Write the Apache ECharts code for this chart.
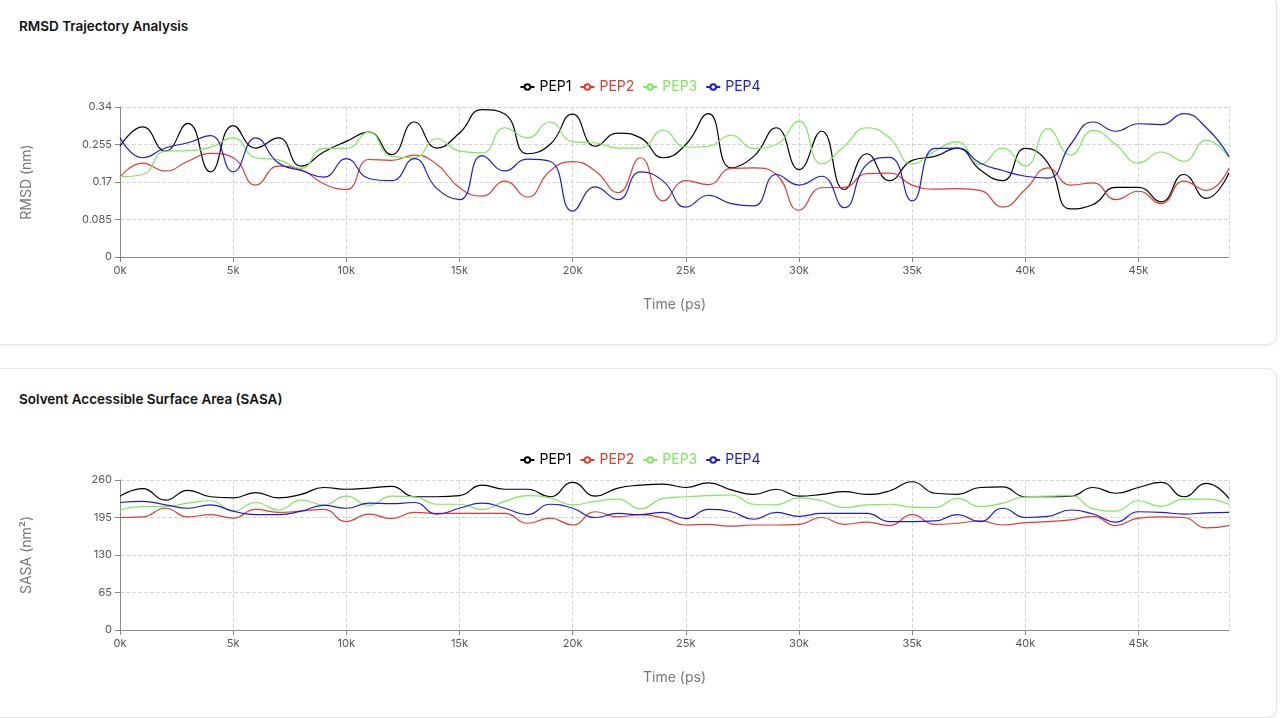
<!DOCTYPE html>
<html>
<head>
<meta charset="utf-8">
<script src="https://cdn.jsdelivr.net/npm/echarts@6/dist/echarts.min.js"></script>
<style>
  html, body { margin: 0; padding: 0; background: #ffffff; width: 1280px; height: 718px; overflow: hidden; font-family: Inter, "Noto Sans", sans-serif; }
  .card { position: absolute; left: -12px; width: 1289px; height: 350px; background: #fff; border: 1px solid #e4e4e4; border-radius: 10px; box-shadow: 0 1px 3px rgba(0,0,0,0.07); box-sizing: border-box; }
  .title { position: absolute; left: 19px; font-size: 13.5px; font-weight: 600; color: #111; line-height: 18px; }
  .chart { position: absolute; left: 0; width: 1280px; height: 270px; }
</style>
</head>
<body>
<div class="card" style="top:-5px"></div>
<div class="card" style="top:368px"></div>
<div class="title" style="top:17px">RMSD Trajectory Analysis</div>
<div class="title" style="top:390px">Solvent Accessible Surface Area (SASA)</div>
<div id="c1" class="chart" style="top:60px"></div>
<div id="c2" class="chart" style="top:433px"></div>
<script>
// time in ps, one frame every 1000 ps
const timePs = [0,1000,2000,3000,4000,5000,6000,7000,8000,9000,10000,11000,12000,13000,14000,15000,16000,17000,18000,19000,20000,21000,22000,23000,24000,25000,26000,27000,28000,29000,30000,31000,32000,33000,34000,35000,36000,37000,38000,39000,40000,41000,42000,43000,44000,45000,46000,47000,48000,49000];
const seriesNames = ['PEP1','PEP2','PEP3','PEP4'];
const seriesColors = ['#000000','#e03c31','#7de85c','#1c1cd6'];

// RMSD (nm)
const rmsdPep1 = [0.251,0.295,0.240,0.303,0.193,0.298,0.247,0.270,0.206,0.238,0.262,0.283,0.232,0.306,0.247,0.281,0.334,0.324,0.234,0.255,0.324,0.251,0.281,0.270,0.225,0.255,0.325,0.202,0.228,0.293,0.198,0.285,0.153,0.234,0.173,0.219,0.228,0.247,0.198,0.173,0.246,0.213,0.109,0.119,0.158,0.158,0.125,0.187,0.133,0.191];
const rmsdPep2 = [0.181,0.213,0.195,0.217,0.235,0.225,0.163,0.206,0.198,0.166,0.153,0.221,0.219,0.231,0.210,0.157,0.138,0.172,0.136,0.195,0.216,0.195,0.146,0.225,0.127,0.173,0.164,0.201,0.202,0.187,0.106,0.157,0.158,0.189,0.190,0.163,0.154,0.155,0.151,0.113,0.153,0.202,0.163,0.168,0.130,0.149,0.121,0.172,0.151,0.201];
const rmsdPep3 = [0.182,0.187,0.240,0.241,0.249,0.270,0.225,0.220,0.201,0.246,0.246,0.283,0.228,0.225,0.268,0.240,0.236,0.293,0.270,0.306,0.261,0.259,0.247,0.247,0.287,0.249,0.251,0.276,0.246,0.255,0.308,0.211,0.251,0.293,0.270,0.211,0.240,0.261,0.210,0.247,0.206,0.291,0.231,0.287,0.255,0.213,0.238,0.217,0.265,0.225];
const rmsdPep4 = [0.271,0.225,0.247,0.259,0.275,0.193,0.270,0.213,0.196,0.181,0.223,0.178,0.173,0.223,0.155,0.130,0.230,0.195,0.222,0.217,0.104,0.159,0.130,0.193,0.172,0.113,0.140,0.121,0.116,0.187,0.163,0.183,0.112,0.210,0.226,0.127,0.246,0.247,0.213,0.196,0.183,0.179,0.255,0.306,0.285,0.302,0.300,0.325,0.293,0.228];

// SASA (nm²)
const sasaPep1 = [232,245,225,242,231,229,238,229,235,247,244,246,249,231,231,233,251,244,244,231,256,232,246,251,253,247,255,243,235,244,232,235,240,235,241,257,237,235,247,248,231,231,232,247,237,247,256,231,254,228];
const sasaPep2 = [195,196,211,196,200,194,209,204,206,209,188,201,193,204,202,202,202,202,185,194,182,205,196,200,194,182,183,180,182,182,183,195,183,187,181,200,183,185,189,182,186,188,191,197,181,194,196,195,177,181];
const sasaPep3 = [208,214,214,220,224,206,221,208,225,217,232,216,232,231,218,218,209,223,233,229,217,223,227,210,228,231,233,234,218,217,229,224,212,217,218,213,212,228,214,220,231,232,233,210,206,224,214,227,227,218];
const sasaPep4 = [221,223,217,211,217,206,200,200,206,216,211,220,219,221,201,211,220,211,200,218,211,195,202,200,204,193,209,205,192,204,197,202,202,202,188,188,189,200,188,211,195,197,208,201,187,205,204,201,203,204];

const rmsdTicks = { min: 0, max: 0.34, interval: 0.085 };
const sasaTicks = { min: 0, max: 260, interval: 65 };

function build(el, datasets, yName, yt) {
  const chart = echarts.init(document.getElementById(el), null, { renderer: 'canvas' });
  const series = datasets.map((arr, k) => ({
    name: seriesNames[k],
    type: 'line',
    smooth: true,
    symbol: 'emptyCircle',
    symbolSize: 5,
    showSymbol: false,
    data: arr.map((v, i) => [timePs[i], v]),
    lineStyle: { width: 1.2, color: seriesColors[k] },
    itemStyle: { color: seriesColors[k] },
    animation: false
  }));
  chart.setOption({
    animation: false,
    textStyle: { fontFamily: 'Inter, "Noto Sans", sans-serif' },
    legend: {
      top: 15,
      left: 'center',
      itemWidth: 14,
      itemHeight: 7,
      itemGap: 8,
      data: seriesNames.map((n, k) => ({ name: n, textStyle: { color: seriesColors[k] } })),
      textStyle: { fontSize: 14 }
    },
    grid: { left: 120, right: 51, top: 47, height: 150, containLabel: false },
    xAxis: {
      type: 'value',
      min: 0,
      max: 49000,
      interval: 5000,
      name: 'Time (ps)',
      nameLocation: 'middle',
      nameGap: 41,
      nameTextStyle: { color: '#777', fontSize: 14 },
      axisLine: { lineStyle: { color: '#888' } },
      axisTick: { lineStyle: { color: '#888' } },
      axisLabel: { color: '#555', fontSize: 11, showMaxLabel: false, formatter: v => (v / 1000) + 'k' },
      splitLine: { show: true, lineStyle: { type: 'dashed', color: '#d6d6d6' } }
    },
    yAxis: {
      type: 'value',
      min: yt.min,
      max: yt.max,
      interval: yt.interval,
      name: yName,
      nameLocation: 'middle',
      nameGap: 86,
      nameTextStyle: { color: '#777', fontSize: 14 },
      axisLine: { show: true, lineStyle: { color: '#888' } },
      axisTick: { show: true, lineStyle: { color: '#888' } },
      axisLabel: { color: '#555', fontSize: 11 },
      splitLine: { show: true, lineStyle: { type: 'dashed', color: '#d6d6d6' } }
    },
    series
  });
}

build('c1', [rmsdPep1, rmsdPep2, rmsdPep3, rmsdPep4], 'RMSD (nm)', rmsdTicks);
build('c2', [sasaPep1, sasaPep2, sasaPep3, sasaPep4], 'SASA (nm²)', sasaTicks);
</script>
</body>
</html>
